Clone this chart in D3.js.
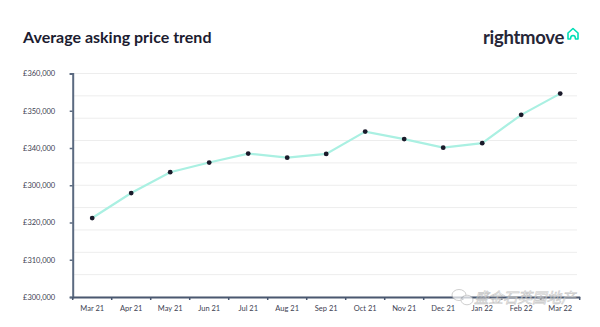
<!DOCTYPE html>
<html lang="en">
<head>
<meta charset="UTF-8">
<title>Average asking price trend</title>
<script src="https://d3js.org/d3.v7.min.js"></script>
<style>
  html, body { margin: 0; padding: 0; background: #fff; }
  svg { display: block; font-family: Lato, "Open Sans", sans-serif; }
</style>
</head>
<body>
<div id="chart"></div>
<script>
    // monthly average asking price
    var months = ["Mar 21", "Apr 21", "May 21", "Jun 21", "Jul 21", "Aug 21", "Sep 21",
        "Oct 21", "Nov 21", "Dec 21", "Jan 22", "Feb 22", "Mar 22"];
    var prices = [321200, 327900, 333500, 336100, 338500, 337400, 338400,
        344400, 342400, 340100, 341300, 348900, 354600];
    var yTicks = [300000, 310000, 320000, 330000, 340000, 350000, 360000];
    var yTickLabels = ["£300,000", "£310,000", "£320,000", "£300,000", "£340,000", "£350,000", "£360,000"];
    var gridValues = [300000, 306000, 312000, 318000, 324000, 330000, 336000, 342000, 348000, 354000, 360000];

    var width = 600, height = 327;

    var svg = d3.select("#chart")
        .append("svg")
        .attr("width", width)
        .attr("height", height);

    svg.append("text")
        .attr("x", 23)
        .attr("y", 43)
        .attr("font-size", 16)
        .attr("font-weight", 700)
        .attr("fill", "#1c1c30")
        .text("Average asking price trend");

    // logo
    var logo = svg.append("g");
    logo.append("text")
        .attr("x", 483)
        .attr("y", 44)
        .attr("font-size", 18.5)
        .attr("font-weight", 700)
        .attr("fill", "#262637")
        .attr("letter-spacing", -0.3)
        .text("rightmove");
    logo.append("path")
        .attr("d", "M568,39 L568,33 L573,28.5 L578,33 L578,39 L575.5,39 Q575.5,35.5 573,35.5 Q570.5,35.5 570.5,39 Z")
        .attr("fill", "none")
        .attr("stroke", "#00deb6")
        .attr("stroke-width", 1.6)
        .attr("stroke-linejoin", "round");

    var x = d3.scaleBand()
        .domain(months)
        .range([72.7, 579.7]);

    var y = d3.scaleLinear()
        .domain([300000, 360000])
        .range([297, 73.5]);

    // horizontal grid
    svg.append("g")
        .selectAll("line")
        .data(gridValues)
        .enter()
        .append("line")
        .attr("x1", 72.7)
        .attr("x2", 577)
        .attr("y1", function(d) { return y(d); })
        .attr("y2", function(d) { return y(d); })
        .attr("stroke", "#ededed")
        .attr("stroke-width", 1);

    // y axis
    var yAxis = svg.append("g")
        .attr("transform", "translate(72.7,0)")
        .call(d3.axisLeft(y)
            .tickValues(yTicks)
            .tickSize(3)
            .tickPadding(14.5)
            .tickFormat(function(d, i) { return yTickLabels[i]; }));
    yAxis.select(".domain").attr("stroke", "#5b6a80").attr("stroke-width", 2);
    yAxis.selectAll(".tick line").attr("stroke", "#5b6a80").attr("stroke-width", 1.5);
    yAxis.selectAll(".tick text")
        .attr("fill", "#3e4252")
        .attr("font-size", 7.5)
        .attr("font-family", "Lato, sans-serif");

    // x axis: labels centred, ticks on band edges
    var xAxis = svg.append("g")
        .attr("transform", "translate(0,297)")
        .call(d3.axisBottom(x).tickSize(0).tickPadding(9));
    xAxis.select(".domain").attr("stroke", "#4a5870").attr("stroke-width", 2);
    xAxis.selectAll(".tick text")
        .attr("fill", "#3e4252")
        .attr("font-size", 7.5)
        .attr("font-family", "Lato, sans-serif");
    xAxis.selectAll(".edge")
        .data(months.concat(["end"]))
        .enter()
        .append("line")
        .attr("class", "edge")
        .attr("x1", function(d, i) { return i < months.length ? x(d) : x.range()[1]; })
        .attr("x2", function(d, i) { return i < months.length ? x(d) : x.range()[1]; })
        .attr("y1", 0)
        .attr("y2", 3)
        .attr("stroke", "#4a5870")
        .attr("stroke-width", 1.5);

    var line = d3.line()
        .x(function(d, i) { return x(months[i]) + x.bandwidth() / 2; })
        .y(function(d) { return y(d); });

    svg.append("path")
        .datum(prices)
        .attr("d", line)
        .attr("fill", "none")
        .attr("stroke", "#aaf0e2")
        .attr("stroke-width", 2.2);

    svg.selectAll(".pt")
        .data(prices)
        .enter()
        .append("circle")
        .attr("class", "pt")
        .attr("cx", function(d, i) { return x(months[i]) + x.bandwidth() / 2; })
        .attr("cy", function(d) { return y(d); })
        .attr("r", 2.4)
        .attr("fill", "#1a1a2a");

    // watermark
    var wm = svg.append("g").attr("opacity", 0.7);
    wm.append("ellipse").attr("cx", 459).attr("cy", 295).attr("rx", 7).attr("ry", 5.5)
        .attr("fill", "#fff").attr("stroke", "#aaa").attr("stroke-width", 0.8);
    wm.append("ellipse").attr("cx", 467).attr("cy", 300).attr("rx", 6).attr("ry", 4.8)
        .attr("fill", "#fff").attr("stroke", "#aaa").attr("stroke-width", 0.8);
    wm.append("text")
        .attr("x", 474)
        .attr("y", 303)
        .attr("font-size", 14.5)
        .attr("font-family", "Noto Sans CJK SC, sans-serif")
        .attr("font-style", "italic")
        .attr("fill", "#fff")
        .attr("stroke", "#b0b0b0")
        .attr("stroke-width", 0.6)
        .text("盛金石英国地产");
</script>
</body>
</html>
